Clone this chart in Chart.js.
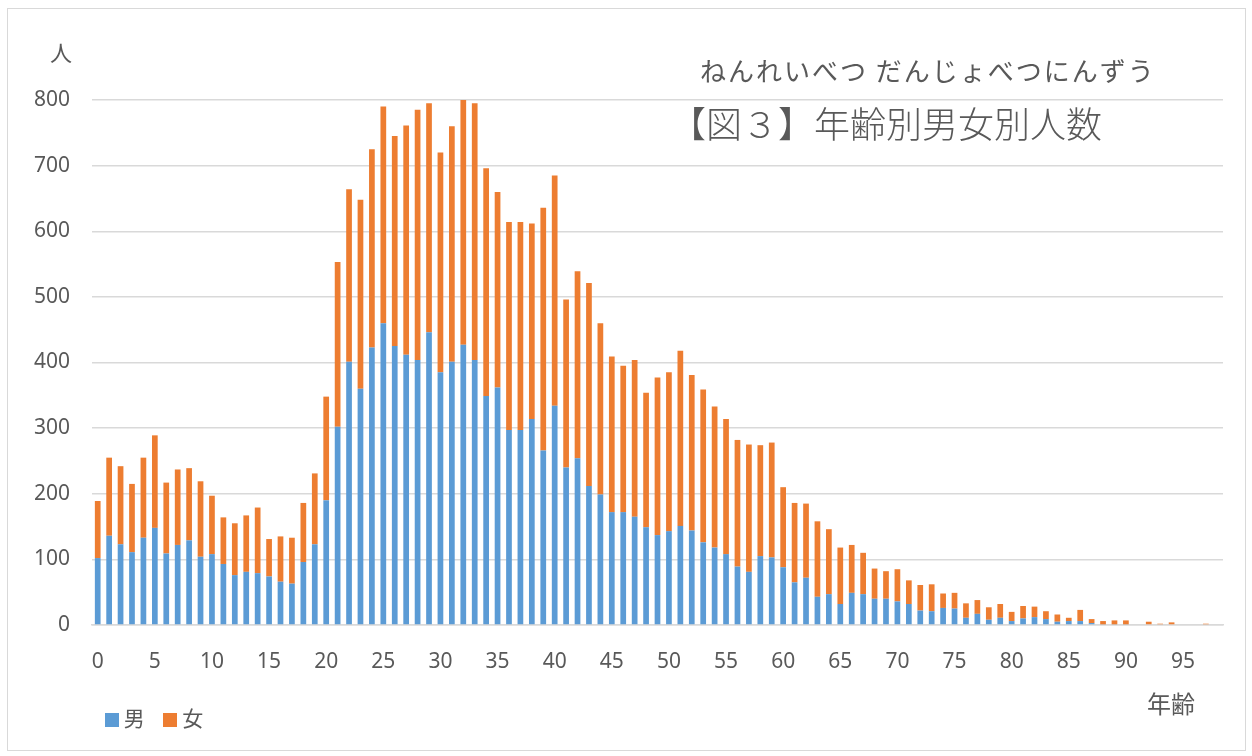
<!DOCTYPE html>
<html>
<head>
<meta charset="utf-8">
<script src="https://cdn.jsdelivr.net/npm/chart.js@4"></script>
<style>
body { margin: 0; background: #fff; }
#wrap { position: relative; width: 1252px; height: 756px; font-family: "Noto Sans CJK JP", sans-serif; color: #595959; }
#frame { position: absolute; left: 7px; top: 8px; width: 1237px; height: 741px; border: 1px solid #d9d9d9; }
#c { position: absolute; left: 0; top: 0; }
.txt { position: absolute; white-space: nowrap; line-height: 1; }
.sq { display: inline-block; width: 14px; height: 14px; vertical-align: middle; }
</style>
</head>
<body>
<div id="wrap">
	<div id="frame"></div>
	<canvas id="c" width="1252" height="756"></canvas>
	<div class="txt" style="left:50px;top:40px;font-size:22px;">人</div>
	<div class="txt" style="left:700px;top:57px;font-size:26px;letter-spacing:2px;">ねんれいべつ だんじょべつにんずう</div>
	<div class="txt" style="left:670px;top:104px;font-size:36px;font-weight:300;">【図３】年齢別男女別人数</div>
	<div class="txt" style="left:1147px;top:691px;font-size:24px;">年齢</div>
	<div class="txt" style="left:105px;top:707px;font-size:21px;">
		<span class="sq" style="background:#5b9bd5"></span> 男
		<span class="sq" style="background:#ed7d31;margin-left:14px"></span> 女
	</div>
</div>
<script>
// 年齢 0〜98
const ages = Array.from({ length: 99 }, (_, i) => String(i));
const xTicks = ['0', '5', '10', '15', '20', '25', '30', '35', '40', '45', '50', '55', '60', '65', '70', '75', '80', '85', '90', '95'];
const yTicks = [0, 100, 200, 300, 400, 500, 600, 700, 800];

// 男
const male = [102, 136, 123, 111, 133, 148, 109, 122, 129, 104,
	108, 93, 76, 81, 79, 74, 66, 63, 96, 123,
	190, 302, 401, 360, 423, 460, 425, 412, 404, 446,
	385, 401, 427, 404, 349, 362, 297, 297, 314, 266,
	334, 240, 254, 212, 199, 172, 172, 165, 149, 137,
	143, 151, 144, 126, 118, 108, 89, 81, 105, 103,
	88, 65, 72, 43, 47, 32, 49, 47, 40, 40,
	36, 32, 22, 21, 26, 25, 11, 17, 8, 11,
	6, 10, 12, 9, 5, 6, 6, 3, 1, 1,
	1, 0, 0, 0, 0, 0, 0, 0, 0];

// 女
const female = [87, 119, 119, 104, 122, 141, 108, 115, 110, 115,
	89, 71, 79, 86, 100, 57, 69, 70, 90, 108,
	158, 251, 263, 288, 302, 330, 320, 349, 381, 349,
	335, 359, 373, 391, 347, 298, 317, 317, 298, 370,
	351, 256, 285, 309, 261, 237, 223, 239, 205, 240,
	242, 267, 237, 233, 215, 206, 193, 194, 169, 175,
	122, 121, 113, 115, 99, 86, 73, 63, 46, 42,
	49, 36, 39, 41, 22, 24, 22, 21, 19, 21,
	14, 19, 16, 12, 11, 5, 17, 6, 5, 6,
	6, 0, 5, 2, 4, 0, 0, 2, 0];

const grey = '#595959';
const tickFont = { family: '"Noto Sans", sans-serif', size: 21 };

new Chart(document.getElementById('c'), {
	type: 'bar',
	data: {
		labels: ages,
		datasets: [
			{ label: '男', data: male, backgroundColor: '#5b9bd5', barPercentage: 0.5, categoryPercentage: 1 },
			{ label: '女', data: female, backgroundColor: '#ed7d31', barPercentage: 0.5, categoryPercentage: 1 }
		]
	},
	options: {
		responsive: false,
		animation: false,
		layout: { padding: { top: 100, right: 29, left: 0, bottom: 0 } },
		plugins: { legend: { display: false }, title: { display: false }, tooltip: { enabled: false } },
		scales: {
			x: {
				stacked: true,
				grid: { display: false },
				border: { display: true, color: '#d9d9d9', width: 1.5 },
				ticks: {
					autoSkip: false, maxRotation: 0, minRotation: 0, padding: 16,
					color: grey, font: tickFont,
					callback: function (v, i) { return xTicks.includes(ages[i]) ? ages[i] : ''; }
				},
				afterFit: function (s) { s.height = 131; }
			},
			y: {
				stacked: true,
				min: yTicks[0], max: yTicks[yTicks.length - 1],
				grid: { color: '#d9d9d9', lineWidth: 1.5, drawTicks: false },
				border: { display: false },
				ticks: { stepSize: 100, padding: 22, color: grey, font: tickFont },
				afterFit: function (s) { s.width = 92; }
			}
		}
	}
});
</script>
</body>
</html>
